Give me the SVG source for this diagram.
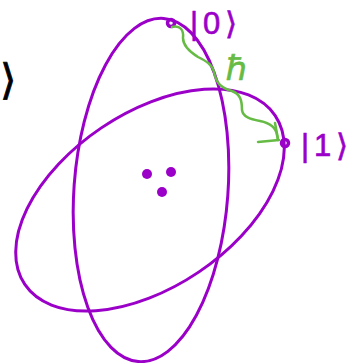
<svg xmlns="http://www.w3.org/2000/svg" width="362" height="363" viewBox="0 0 362 363">
<style>
.orb{fill:none;stroke:#9a00c8;stroke-width:3}
.dot{fill:#9a00c8}
.mk{fill:none;stroke:#9a00c8;stroke-width:3.5}
.lbl{font-family:"Liberation Sans",sans-serif;fill:#9a00c8;stroke:#9a00c8;stroke-width:0.6;font-size:31px;letter-spacing:5px}
.ph{fill:none;stroke:#66bb44;stroke-width:2.5;stroke-linecap:round;stroke-linejoin:round}
</style>
<rect width="362" height="363" fill="#fff"/>
<g id="orbit-vertical"><ellipse class="orb" cx="151" cy="190" rx="77" ry="172" transform="rotate(4.2 151 190)"/></g>
<g id="orbit-tilted"><ellipse class="orb" cx="150" cy="200" rx="151" ry="87" transform="rotate(-34 150 200)"/></g>
<g id="nucleus">
<circle class="dot" cx="147" cy="174" r="5"/>
<circle class="dot" cx="171" cy="172" r="5"/>
<circle class="dot" cx="162" cy="192" r="5"/>
</g>
<g id="state0">
<circle class="mk" cx="171" cy="23" r="3.5"/>
<text class="lbl" x="190" y="34">|0⟩</text>
</g>
<g id="state1">
<circle class="mk" cx="285" cy="143" r="3.5"/>
<text class="lbl" x="301" y="156">|1⟩</text>
</g>
<g id="edge-label"><text x="226" y="80" font-family="Liberation Sans,sans-serif" font-size="34" fill="#66bb44" stroke="#66bb44" stroke-width="0.6">ℏ</text></g>
<g id="connectors">
<path class="ph" d="M172 27 C180 25 184 30 183 38 C183 46 190 52 198 57 C206 61 212 64 214 72 C216 82 220 88 232 91 C240 94 242 100 242 110 C243 117 250 119 260 121 C270 123 276 127 277 135 L278 140"/>
<path class="ph" d="M258 142 L279 140 M275 123 L278 139"/>
</g>
<text x="0" y="94" font-family="Liberation Sans,sans-serif" font-size="42" fill="#000" stroke="#000" stroke-width="0.8">⟩</text>
</svg>
